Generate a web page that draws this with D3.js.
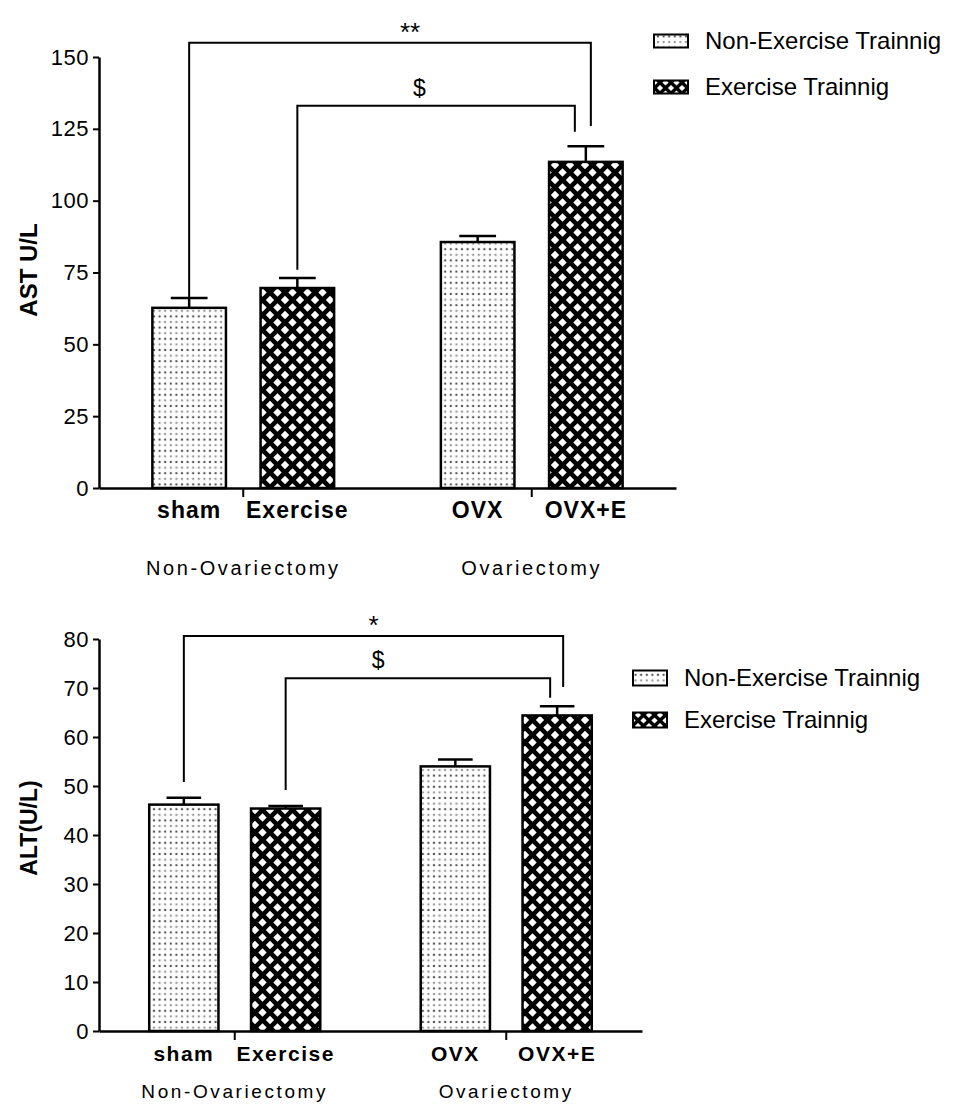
<!DOCTYPE html>
<html>
<head>
<meta charset="utf-8">
<script src="https://cdn.jsdelivr.net/npm/d3@7"></script>
<style>
  body { margin: 0; background: #fff; }
  text { font-family: "Liberation Sans", Arial, sans-serif; fill: #000; }
</style>
</head>
<body>
<script>
// data
const groups = ["Non-Ovariectomy", "Ovariectomy"];
const series = ["Non-Exercise Trainnig", "Exercise Trainnig"];
const categories = ["sham", "Exercise", "OVX", "OVX+E"];

const astMean = [62.7, 69.6, 85.6, 113.5];
const astSem = [3.4, 3.5, 2.1, 5.4];
const astTicks = [0, 25, 50, 75, 100, 125, 150];
// significance brackets: bar index from/to, level and leg ends in U/L
const astBrackets = [
  {from: 0, to: 3, level: 155, fromEnd: 66.5, toEnd: 126, label: "**"},
  {from: 1, to: 3, level: 133, fromEnd: 76, toEnd: 124, label: "$"}
];

const altMean = [46.2, 45.4, 54.0, 64.4];
const altSem = [1.4, 0.5, 1.4, 1.9];
const altTicks = [0, 10, 20, 30, 40, 50, 60, 70, 80];
const altBrackets = [
  {from: 0, to: 3, level: 80.6, fromEnd: 50.8, toEnd: 70.2, label: "*"},
  {from: 1, to: 3, level: 72.0, fromEnd: 49.2, toEnd: 68.0, label: "$"}
];

let w = 965;
let h = 1105;

let svg = d3.select("body").append("svg")
  .attr("width", w)
  .attr("height", h)
  .style("background-color", "white");

// fill patterns
let defs = svg.append("defs");
let dots = defs.append("pattern").attr("id", "dots")
  .attr("patternUnits", "userSpaceOnUse").attr("width", 5.6).attr("height", 11.2);
dots.append("rect").attr("width", 5.6).attr("height", 11.2).attr("fill", "#fff");
dots.append("circle").attr("cx", 2.8).attr("cy", 2.8).attr("r", 1.2).attr("fill", "#555");
dots.append("circle").attr("cx", 2.8).attr("cy", 8.4).attr("r", 1.2).attr("fill", "#999");

function diamondPattern(id, p, half){
  let pat = defs.append("pattern").attr("id", id)
    .attr("patternUnits", "userSpaceOnUse").attr("width", p).attr("height", p);
  pat.append("rect").attr("width", p).attr("height", p).attr("fill", "#000");
  [[p/2, p/2], [0, 0], [p, 0], [0, p], [p, p]].forEach(([cx, cy]) => {
    pat.append("polygon")
      .attr("points", [[cx, cy-half], [cx+half, cy], [cx, cy+half], [cx-half, cy]].join(" "))
      .attr("fill", "#fff");
  });
}
diamondPattern("diamond", 15, 4.2);
diamondPattern("diamondSmall", 11, 3.1);

const fills = ["url(#dots)", "url(#diamond)"];
const legendFills = ["url(#dots)", "url(#diamondSmall)"];

const charts = [
  {
    mean: astMean, sem: astSem, ticks: astTicks, brackets: astBrackets, yMax: 150,
    top: 57, bottom: 488, left: 99, right: 676,
    yLabel: "AST U/L", yLabelY: 270, yLabelSize: 24,
    catSize: 23, catSpacing: 1, groupY: 87, groupSize: 20,
    rightDx: [5, -11], labelAt: [0.55, 0.44],
    legend: {x: 654, rows: [41, 87], box: [34, 13], textX: 705, size: 24}
  },
  {
    mean: altMean, sem: altSem, ticks: altTicks, brackets: altBrackets, yMax: 80,
    top: 639, bottom: 1031, left: 99, right: 642,
    yLabel: "ALT(U/L)", yLabelY: 828, yLabelSize: 23,
    catSize: 21, catSpacing: 1.5, groupY: 67, groupSize: 19,
    rightDx: [6, -7], labelAt: [0.5, 0.35],
    legend: {x: 633, rows: [678, 720], box: [34, 15], textX: 684, size: 24}
  }
];

function drawChart(c){
  let g = svg.append("g");
  let yScale = d3.scaleLinear().domain([0, c.yMax]).range([c.bottom, c.top]);
  let xGroup = d3.scaleBand().domain(groups).range([c.left, c.right]);
  let bw = xGroup.bandwidth();
  let xSeries = d3.scaleBand().domain(series)
    .range([bw*0.185, bw*0.815]).paddingInner(0.32);

  let bars = categories.map((cat, i) => {
    let grp = groups[Math.floor(i/2)];
    let s = series[i%2];
    let x = xGroup(grp) + xSeries(s);
    return {cat: cat, si: i%2, x: x, cx: x + xSeries.bandwidth()/2,
            v: c.mean[i], e: c.sem[i]};
  });
  let barW = xSeries.bandwidth();

  // bars
  g.selectAll(".bar").data(bars).enter().append("rect")
    .attr("class", "bar")
    .attr("x", d => d.x)
    .attr("y", d => yScale(d.v))
    .attr("width", barW)
    .attr("height", d => yScale(0) - yScale(d.v))
    .attr("fill", d => fills[d.si])
    .attr("stroke", "#000")
    .attr("stroke-width", 2.5);

  // error bars (upper only)
  let err = g.selectAll(".err").data(bars).enter().append("g").attr("class", "err")
    .attr("stroke", "#000").attr("stroke-width", 2.5);
  err.append("line")
    .attr("x1", d => d.cx).attr("x2", d => d.cx)
    .attr("y1", d => yScale(d.v)).attr("y2", d => yScale(d.v + d.e));
  err.append("line")
    .attr("x1", d => d.cx - barW*0.25).attr("x2", d => d.cx + barW*0.25)
    .attr("y1", d => yScale(d.v + d.e)).attr("y2", d => yScale(d.v + d.e));

  // axes
  let yAxis = d3.axisLeft(yScale).tickValues(c.ticks).tickSize(6).tickSizeOuter(0).tickPadding(4);
  let yAxisGroup = g.append("g").attr("transform", "translate(" + c.left + ",0)").call(yAxis);
  yAxisGroup.select(".domain").attr("stroke-width", 2.5);
  yAxisGroup.selectAll(".tick line").attr("stroke-width", 2);
  yAxisGroup.selectAll(".tick text")
    .style("font-family", "Liberation Sans, Arial, sans-serif")
    .style("font-size", "22px")
    .style("letter-spacing", "0.5px")
    .attr("fill", "#000");

  let xAxis = d3.axisBottom(xGroup).tickSize(9).tickSizeOuter(0).tickFormat("");
  let xAxisGroup = g.append("g").attr("transform", "translate(0," + c.bottom + ")").call(xAxis);
  xAxisGroup.select(".domain").attr("stroke-width", 2.5);
  xAxisGroup.selectAll(".tick line").attr("stroke-width", 2);

  // category labels
  g.selectAll(".cat").data(bars).enter().append("text")
    .attr("x", d => d.cx)
    .attr("y", c.bottom + 30)
    .attr("text-anchor", "middle")
    .style("font-weight", "bold")
    .style("font-size", c.catSize + "px")
    .style("letter-spacing", c.catSpacing + "px")
    .text(d => d.cat);

  // group labels
  g.selectAll(".grp").data(groups).enter().append("text")
    .attr("x", d => xGroup(d) + bw/2)
    .attr("y", c.bottom + c.groupY)
    .attr("text-anchor", "middle")
    .style("font-size", c.groupSize + "px")
    .style("letter-spacing", "2.6px")
    .text(d => d);

  // y label
  g.append("text")
    .attr("transform", "rotate(-90)")
    .attr("x", -c.yLabelY)
    .attr("y", 37)
    .attr("text-anchor", "middle")
    .style("font-weight", "bold")
    .style("font-size", c.yLabelSize + "px")
    .text(c.yLabel);

  // significance brackets
  c.brackets.forEach((b, i) => {
    let x1 = bars[b.from].cx;
    let x2 = bars[b.to].cx + c.rightDx[i];
    g.append("path")
      .attr("d", "M" + x1 + "," + yScale(b.fromEnd) + "V" + yScale(b.level) +
                 "H" + x2 + "V" + yScale(b.toEnd))
      .attr("fill", "none")
      .attr("stroke", "#000")
      .attr("stroke-width", 2);
    g.append("text")
      .attr("x", x1 + (x2 - x1)*c.labelAt[i])
      .attr("y", yScale(b.level) - (b.label == "$" ? 10 : 2))
      .attr("text-anchor", "middle")
      .style("font-size", b.label == "$" ? "23px" : "26px")
      .text(b.label);
  });

  // legend
  let lg = g.append("g");
  series.forEach((s, i) => {
    let cy = c.legend.rows[i];
    lg.append("rect")
      .attr("x", c.legend.x)
      .attr("y", cy - c.legend.box[1]/2)
      .attr("width", c.legend.box[0])
      .attr("height", c.legend.box[1])
      .attr("fill", legendFills[i])
      .attr("stroke", "#000")
      .attr("stroke-width", 2);
    lg.append("text")
      .attr("x", c.legend.textX)
      .attr("y", cy)
      .attr("dy", "0.35em")
      .style("font-size", c.legend.size + "px")
      .text(s);
  });
}

charts.forEach(drawChart);
</script>
</body>
</html>
